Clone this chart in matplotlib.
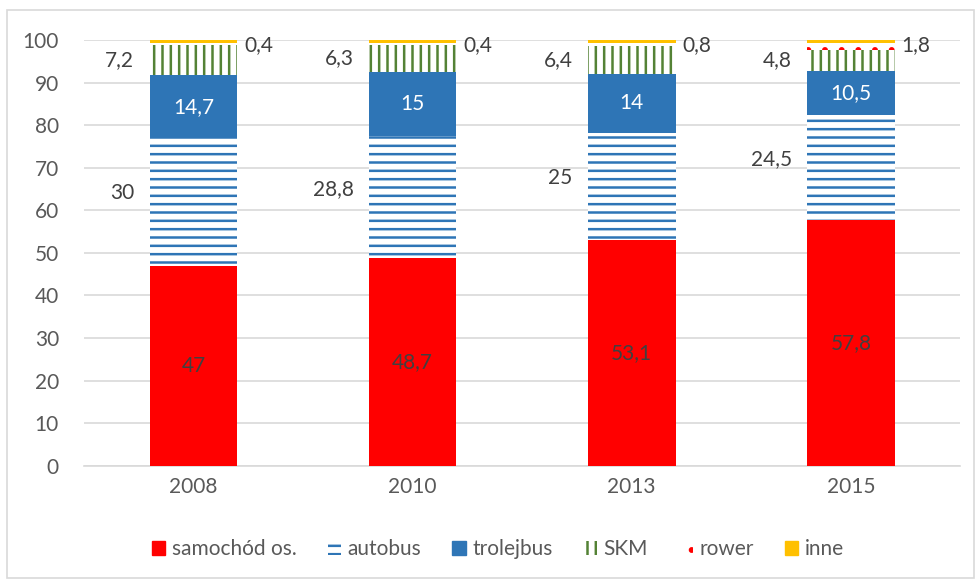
import matplotlib.pyplot as plt
import matplotlib.patches as mpatches
import numpy as np

plt.rcParams['font.family'] = ['Lato', 'DejaVu Sans']
plt.rcParams['hatch.linewidth'] = 1.8

years = ['2008', '2010', '2013', '2015']
samochod = [47, 48.7, 53.1, 57.8]
autobus = [30, 28.8, 25, 24.5]
trolejbus = [14.7, 15, 14, 10.5]
skm = [7.2, 6.3, 6.4, 4.8]
rower = [0.4, 0.4, 0.8, 1.8]
inne = [0.7, 0.8, 0.7, 0.6]

def fmt(v):
    return ('%g' % v).replace('.', ',')

fig = plt.figure(figsize=(9.76, 5.8), dpi=100)
ax = fig.add_axes([0.086, 0.197, 0.898, 0.734])

x = np.arange(len(years))
w = 0.4
txt = '#595959'
fs = 15

series = [
    ('samochód os.', samochod, dict(color='#FF0000')),
    ('autobus', autobus, dict(facecolor='white', edgecolor='#2E75B6', hatch='--', linewidth=0)),
    ('trolejbus', trolejbus, dict(color='#2E75B6')),
    ('SKM', skm, dict(facecolor='white', edgecolor='#548235', hatch='||', linewidth=0)),
    ('rower', rower, dict(facecolor='white', edgecolor='#FF0000', hatch='.', linewidth=0)),
    ('inne', inne, dict(color='#FFC000')),
]

bottom = np.zeros(len(years))
handles = []
bars = {}
for name, vals, st in series:
    ax.bar(x, vals, w, bottom=bottom, label=name, zorder=3, **st)
    bars[name] = (np.array(vals), bottom.copy())
    bottom = bottom + np.array(vals)
    handles.append(mpatches.Patch(label=name, **st))

# labels
v, b0 = bars['samochód os.']
for i in range(len(years)):
    ax.text(x[i], b0[i] + v[i] / 2, fmt(v[i]), ha='center', va='center', fontsize=fs, color='#404040', zorder=4)
v, b0 = bars['autobus']
for i in range(len(years)):
    ax.text(x[i] - w / 2 - 0.07, b0[i] + v[i] / 2 + 2, fmt(v[i]), ha='right', va='center', fontsize=fs, color='#404040', zorder=4)
v, b0 = bars['trolejbus']
for i in range(len(years)):
    ax.text(x[i], b0[i] + v[i] / 2, fmt(v[i]), ha='center', va='center', fontsize=fs, color='white', zorder=4)
v, b0 = bars['SKM']
for i in range(len(years)):
    ax.text(x[i] - w / 2 - 0.07, b0[i] + v[i] / 2, fmt(v[i]), ha='right', va='center', fontsize=fs, color='#404040', zorder=4)
v, b0 = bars['rower']
for i in range(len(years)):
    ax.text(x[i] + w / 2 + 0.03, 98.8, fmt(v[i]), ha='left', va='center', fontsize=fs, color='#404040', zorder=4)

ax.set_xlim(-0.5, len(years) - 0.5)
ax.set_ylim(0, 100)
ax.set_yticks(range(0, 101, 10))
ax.set_xticks(x)
ax.set_xticklabels(years)
ax.tick_params(axis='both', length=0, labelsize=fs, colors=txt)
ax.tick_params(axis='y', pad=18)
ax.tick_params(axis='x', pad=8)
ax.yaxis.grid(True, color='#D9D9D9', linewidth=1.2, zorder=0)
for s in ['top', 'right', 'left']:
    ax.spines[s].set_visible(False)
ax.spines['bottom'].set_color('#D9D9D9')
ax.spines['bottom'].set_linewidth(1.2)

fig.legend(handles=handles, loc='center', bbox_to_anchor=(0.51, 0.053), ncol=6, frameon=False,
           fontsize=fs, handlelength=0.65, handleheight=0.65, handletextpad=0.3, columnspacing=1.5,
           labelcolor=txt)

fig.patches.append(mpatches.Rectangle((7 / 976, 2 / 580), 967 / 976, 568 / 580, transform=fig.transFigure,
                                      fill=False, edgecolor='#D9D9D9', linewidth=1.2))

fig.savefig('out.png', dpi=100)
